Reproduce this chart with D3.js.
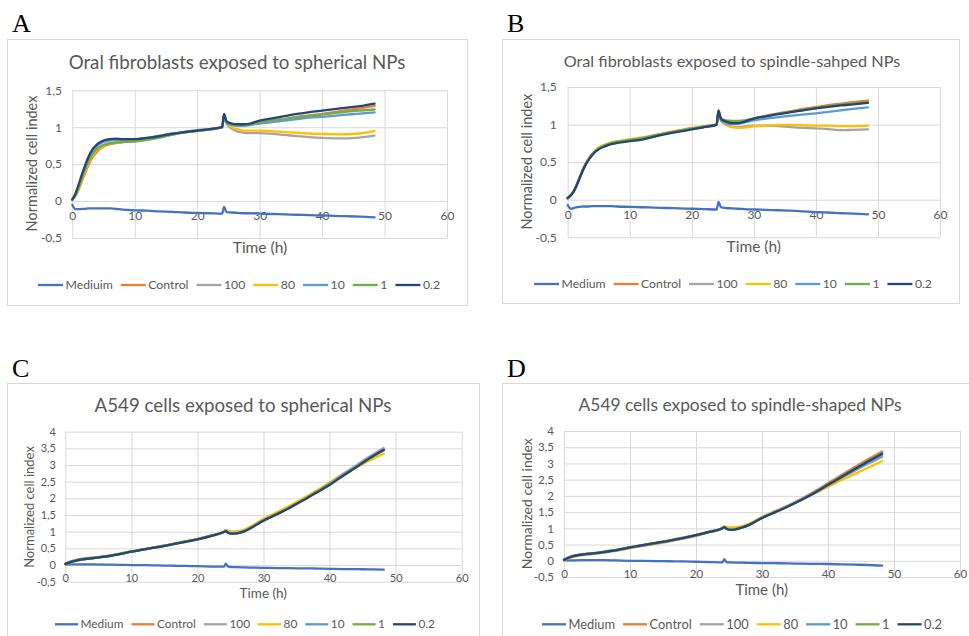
<!DOCTYPE html>
<html><head><meta charset="utf-8">
<script src="https://cdn.jsdelivr.net/npm/d3@7"></script>
<style>html,body{margin:0;padding:0;background:#fff;} svg{display:block;}</style>
</head><body>
<svg id="c" width="969" height="636"></svg>
<script>
// ---------------- DATA ----------------
const seriesNames = ["Medium","Control","100","80","10","1","0.2"];
const seriesNamesA = ["Mediuim","Control","100","80","10","1","0.2"];
const xTickValues = [0,10,20,30,40,50,60];
const yTicksFibro = [-0.5,0,0.5,1,1.5];
const yTicksA549 = [-0.5,0,0.5,1,1.5,2,2.5,3,3.5,4];
const titles = ["Oral fibroblasts exposed to spherical NPs","Oral fibroblasts exposed to spindle-sahped NPs","A549 cells exposed to spherical NPs","A549 cells exposed to spindle-shaped NPs"];

const hoursFibro = [0,0.5,1,1.5,2,2.5,3,4,5,6,7,8,10,12,14,16,18,20,22,24,24.3,24.7,25.5,26.5,27.5,28.5,30,32,34,36,38,40,42,44,46,48.4];
const hoursA549 = [0,0.5,1,2,3,4,6,8,10,12,14,16,18,20,22,24,24.3,24.6,25.2,26,27,28,30,32,34,36,38,40,42,44,46,48.2];

// Panel A
const fibroA_medium = [-0.05,-0.11,-0.11,-0.105,-0.105,-0.1,-0.1,-0.1,-0.1,-0.1,-0.105,-0.115,-0.125,-0.13,-0.14,-0.145,-0.155,-0.16,-0.165,-0.17,-0.08,-0.15,-0.155,-0.16,-0.165,-0.165,-0.17,-0.175,-0.18,-0.185,-0.19,-0.195,-0.2,-0.205,-0.21,-0.22];
const fibroA_control = [0.02,0.07,0.15,0.26,0.37,0.47,0.56,0.67,0.74,0.77,0.785,0.8,0.81,0.835,0.865,0.9,0.93,0.95,0.97,1.0,1.17,1.07,1.04,1.03,1.03,1.04,1.06,1.09,1.11,1.14,1.16,1.18,1.205,1.23,1.255,1.29];
const fibroA_100 = [0.02,0.08,0.17,0.29,0.41,0.51,0.6,0.7,0.76,0.785,0.795,0.805,0.815,0.84,0.87,0.905,0.93,0.955,0.97,1.0,1.16,1.05,0.98,0.94,0.925,0.92,0.92,0.91,0.895,0.88,0.865,0.855,0.85,0.85,0.86,0.885];
const fibroA_80 = [0.02,0.08,0.16,0.28,0.4,0.5,0.59,0.69,0.75,0.78,0.79,0.8,0.81,0.835,0.865,0.9,0.93,0.95,0.97,1.0,1.16,1.06,1.0,0.97,0.955,0.955,0.955,0.945,0.935,0.925,0.915,0.91,0.905,0.905,0.915,0.95];
const fibroA_10 = [0.02,0.09,0.2,0.33,0.45,0.56,0.65,0.75,0.8,0.82,0.83,0.83,0.835,0.855,0.885,0.915,0.94,0.96,0.975,1.0,1.17,1.06,1.03,1.02,1.02,1.03,1.05,1.07,1.09,1.11,1.13,1.14,1.155,1.17,1.185,1.2];
const fibroA_1 = [0.02,0.08,0.18,0.3,0.42,0.52,0.61,0.71,0.76,0.78,0.79,0.8,0.81,0.83,0.86,0.9,0.93,0.95,0.97,1.0,1.17,1.07,1.04,1.03,1.03,1.04,1.06,1.09,1.11,1.135,1.155,1.17,1.19,1.21,1.225,1.24];
const fibroA_02 = [0.02,0.1,0.22,0.35,0.47,0.58,0.67,0.77,0.82,0.84,0.845,0.84,0.84,0.855,0.88,0.91,0.935,0.955,0.975,1.0,1.18,1.08,1.05,1.04,1.04,1.05,1.09,1.12,1.15,1.18,1.205,1.225,1.245,1.265,1.285,1.32];

// Panel B
const fibroB_medium = [-0.07,-0.12,-0.11,-0.1,-0.095,-0.09,-0.09,-0.085,-0.085,-0.085,-0.085,-0.09,-0.095,-0.1,-0.105,-0.11,-0.115,-0.12,-0.125,-0.13,-0.03,-0.1,-0.11,-0.115,-0.12,-0.125,-0.13,-0.135,-0.14,-0.145,-0.155,-0.165,-0.17,-0.18,-0.185,-0.195];
const fibroB_control = [0.02,0.06,0.12,0.21,0.31,0.41,0.49,0.61,0.68,0.72,0.75,0.765,0.79,0.815,0.85,0.885,0.915,0.945,0.97,1.0,1.17,1.07,1.04,1.03,1.03,1.05,1.08,1.12,1.15,1.18,1.21,1.235,1.26,1.28,1.3,1.32];
const fibroB_100 = [0.02,0.06,0.12,0.21,0.31,0.41,0.49,0.61,0.68,0.72,0.75,0.77,0.795,0.82,0.855,0.89,0.92,0.95,0.975,1.0,1.16,1.05,1.0,0.97,0.965,0.975,0.985,0.985,0.98,0.965,0.955,0.95,0.94,0.925,0.93,0.935];
const fibroB_80 = [0.02,0.06,0.12,0.21,0.31,0.41,0.5,0.62,0.695,0.735,0.765,0.78,0.805,0.83,0.86,0.895,0.925,0.955,0.98,1.0,1.16,1.06,1.0,0.965,0.955,0.96,0.975,0.99,0.995,0.995,0.99,0.985,0.985,0.98,0.98,0.985];
const fibroB_10 = [0.02,0.06,0.12,0.21,0.31,0.41,0.49,0.61,0.68,0.72,0.75,0.765,0.79,0.815,0.85,0.885,0.915,0.945,0.97,1.0,1.17,1.06,1.02,1.005,1.01,1.03,1.055,1.08,1.1,1.12,1.135,1.15,1.17,1.19,1.21,1.23];
const fibroB_1 = [0.02,0.06,0.12,0.21,0.31,0.41,0.49,0.61,0.685,0.725,0.755,0.77,0.795,0.82,0.855,0.89,0.92,0.95,0.975,1.0,1.17,1.08,1.055,1.05,1.05,1.055,1.08,1.115,1.145,1.17,1.195,1.22,1.245,1.265,1.28,1.3];
const fibroB_02 = [0.02,0.06,0.11,0.2,0.3,0.4,0.48,0.6,0.67,0.71,0.74,0.755,0.78,0.8,0.84,0.875,0.905,0.935,0.965,1.0,1.19,1.08,1.04,1.02,1.02,1.04,1.08,1.11,1.14,1.165,1.19,1.215,1.235,1.255,1.27,1.29];

// Panel C
const a549C_medium = [0.02,0.02,0.02,0.02,0.02,0.02,0.015,0.005,0.0,-0.005,-0.01,-0.02,-0.025,-0.035,-0.045,-0.05,0.04,-0.04,-0.06,-0.065,-0.07,-0.075,-0.085,-0.09,-0.095,-0.1,-0.105,-0.115,-0.12,-0.125,-0.13,-0.14];
const a549C_control = [0.03,0.07,0.1,0.15,0.18,0.2,0.25,0.32,0.4,0.47,0.54,0.61,0.69,0.77,0.87,0.99,1.03,0.99,0.96,0.97,1.02,1.12,1.35,1.54,1.74,1.96,2.2,2.44,2.7,2.95,3.2,3.45];
const a549C_100 = [0.03,0.08,0.11,0.16,0.19,0.21,0.26,0.33,0.41,0.48,0.55,0.62,0.7,0.78,0.88,1.0,1.05,1.03,1.0,1.01,1.05,1.14,1.37,1.56,1.76,1.98,2.22,2.47,2.73,2.99,3.25,3.51];
const a549C_80 = [0.03,0.08,0.11,0.16,0.19,0.21,0.26,0.33,0.41,0.48,0.55,0.62,0.7,0.78,0.88,1.0,1.04,1.01,0.99,1.0,1.05,1.15,1.39,1.58,1.78,2.0,2.23,2.47,2.7,2.92,3.13,3.34];
const a549C_10 = [0.03,0.07,0.1,0.15,0.18,0.2,0.25,0.32,0.4,0.47,0.54,0.61,0.69,0.77,0.87,0.99,1.02,0.98,0.95,0.96,1.01,1.11,1.34,1.53,1.73,1.95,2.19,2.43,2.69,2.94,3.19,3.44];
const a549C_1 = [0.04,0.09,0.12,0.17,0.2,0.22,0.27,0.33,0.41,0.48,0.55,0.62,0.7,0.78,0.88,1.0,1.03,0.97,0.94,0.95,1.01,1.11,1.34,1.53,1.73,1.95,2.19,2.43,2.69,2.94,3.19,3.44];
const a549C_02 = [0.03,0.07,0.1,0.15,0.18,0.2,0.25,0.32,0.4,0.47,0.54,0.61,0.69,0.77,0.87,0.99,1.02,0.97,0.94,0.95,1.0,1.1,1.33,1.52,1.72,1.94,2.17,2.4,2.67,2.93,3.2,3.46];

// Panel D
const a549D_medium = [0.01,0.01,0.015,0.015,0.02,0.02,0.02,0.01,0.0,-0.005,-0.01,-0.015,-0.02,-0.03,-0.04,-0.05,0.05,-0.04,-0.05,-0.055,-0.06,-0.065,-0.07,-0.075,-0.08,-0.09,-0.095,-0.1,-0.11,-0.12,-0.13,-0.15];
const a549D_control = [0.02,0.06,0.1,0.15,0.18,0.2,0.25,0.31,0.39,0.46,0.53,0.6,0.68,0.77,0.88,0.99,1.03,1.0,0.97,0.99,1.04,1.11,1.33,1.51,1.7,1.91,2.14,2.39,2.64,2.88,3.12,3.37];
const a549D_100 = [0.03,0.08,0.12,0.17,0.2,0.22,0.27,0.33,0.41,0.48,0.55,0.62,0.7,0.79,0.89,1.0,1.05,1.02,1.0,1.01,1.05,1.13,1.35,1.53,1.71,1.91,2.12,2.34,2.55,2.77,2.98,3.2];
const a549D_80 = [0.03,0.08,0.12,0.17,0.2,0.22,0.27,0.33,0.41,0.48,0.55,0.62,0.7,0.79,0.89,1.0,1.06,1.04,1.03,1.04,1.07,1.14,1.34,1.52,1.7,1.89,2.08,2.28,2.48,2.67,2.86,3.07];
const a549D_10 = [0.03,0.08,0.12,0.17,0.2,0.22,0.27,0.33,0.41,0.48,0.55,0.62,0.7,0.79,0.89,1.0,1.04,0.99,0.96,0.98,1.03,1.1,1.32,1.5,1.68,1.88,2.1,2.33,2.56,2.79,3.02,3.25];
const a549D_1 = [0.04,0.09,0.13,0.18,0.21,0.23,0.28,0.34,0.42,0.49,0.56,0.63,0.71,0.8,0.9,1.0,1.04,0.98,0.95,0.97,1.03,1.1,1.32,1.5,1.69,1.89,2.11,2.35,2.59,2.83,3.07,3.32];
const a549D_02 = [0.03,0.08,0.12,0.17,0.2,0.22,0.27,0.33,0.41,0.48,0.55,0.62,0.7,0.79,0.89,1.0,1.04,0.99,0.95,0.97,1.03,1.1,1.32,1.5,1.68,1.88,2.1,2.34,2.58,2.82,3.05,3.3];

// ---------------- STYLE / LAYOUT ----------------
const colors = ["#4472C4","#ED7D31","#A5A5A5","#FFC000","#5B9BD5","#70AD47","#264478"];
const FONT = 'Lato, "Open Sans", "DejaVu Sans", sans-serif';
const TEXT = "#595959";
const GRID = "#d9d9d9";
const LW = 2.3;

const panels = [
  {label:"A", lab:[12,32], frame:[7,39,467,305], x0:72.3, x1:447, yTop:90.3, yBot:238, yPad:10.3, xOff:15, tickFs:12,
   title:[237,69,337], ytitle:[32,163.5,14.5], xtitle:[260,253,15.5], legend:[239,285,402], legLine:25,
   hours:hoursFibro, yTicks:yTicksFibro, names:seriesNamesA, titleText:titles[0],
   series:[fibroA_medium,fibroA_control,fibroA_100,fibroA_80,fibroA_10,fibroA_1,fibroA_02]},
  {label:"B", lab:[507,32], frame:[502,39,959,303], x0:567.7, x1:940, yTop:87, yBot:237.3, yPad:11, xOff:14.7, tickFs:12,
   title:[732,67,337], ytitle:[526.7,161.7,14.5], xtitle:[753.8,252.3,15.5], legend:[733,284,398], legLine:25,
   hours:hoursFibro, yTicks:yTicksFibro, names:seriesNames, titleText:titles[1],
   series:[fibroB_medium,fibroB_control,fibroB_100,fibroB_80,fibroB_10,fibroB_1,fibroB_02]},
  {label:"C", lab:[12,377], frame:[7,383,479,650], x0:65.3, x1:461.7, yTop:431.7, yBot:581.7, yPad:9.3, xOff:13.2, tickFs:11,
   title:[243,411.7,297], ytitle:[29.3,507,13], xtitle:[263.3,597.5,13.5], legend:[245,624.3,380], legLine:23,
   hours:hoursA549, yTicks:yTicksA549, names:seriesNames, titleText:titles[2],
   series:[a549C_medium,a549C_control,a549C_100,a549C_80,a549C_10,a549C_1,a549C_02]},
  {label:"D", lab:[507,377], frame:[502,383,990,650], x0:564, x1:960, yTop:431, yBot:577, yPad:10, xOff:13.2, tickFs:11.5,
   title:[740,411,323], ytitle:[526.7,503.7,14], xtitle:[761.7,594.8,15], legend:[742,624.3,400], legLine:24,
   hours:hoursA549, yTicks:yTicksA549, names:seriesNames, titleText:titles[3],
   series:[a549D_medium,a549D_control,a549D_100,a549D_80,a549D_10,a549D_1,a549D_02]}
];

const svg = d3.select("#c");
const fmt = d => String(d).replace(".", ",");

function fitWidth(sel, w) {
  const fs = parseFloat(sel.attr("font-size"));
  const L = sel.node().getComputedTextLength();
  if (L > 0) sel.attr("font-size", Math.max(fs*0.8, Math.min(fs*1.25, fs*w/L)));
}

function drawPanel(p) {
  const g = svg.append("g");
  g.append("rect")
    .attr("x", p.frame[0]+0.5).attr("y", p.frame[1]+0.5)
    .attr("width", p.frame[2]-p.frame[0]).attr("height", p.frame[3]-p.frame[1])
    .attr("fill", "#fff").attr("stroke", GRID).attr("stroke-width", 1);

  g.append("text").text(p.label)
    .attr("x", p.lab[0]).attr("y", p.lab[1])
    .attr("font-family", '"Liberation Serif", "DejaVu Serif", serif')
    .attr("font-size", 26).attr("fill", "#000");

  const x = d3.scaleLinear().domain([0, 60]).range([p.x0, p.x1]);
  const y = d3.scaleLinear().domain([p.yTicks[0], p.yTicks[p.yTicks.length-1]]).range([p.yBot, p.yTop]);

  // horizontal gridlines + y labels
  const gy = g.append("g").attr("transform", `translate(${p.x0},0)`)
    .call(d3.axisLeft(y).tickValues(p.yTicks).tickSize(-(p.x1-p.x0)).tickPadding(p.yPad).tickFormat(fmt));
  gy.select(".domain").remove();
  gy.selectAll("line").attr("stroke", GRID);
  gy.selectAll("text").attr("fill", TEXT).attr("font-family", FONT).attr("font-size", p.tickFs);

  // vertical gridlines
  const gv = g.append("g").attr("transform", `translate(0,${p.yBot})`)
    .call(d3.axisBottom(x).tickValues(xTickValues).tickSize(-(p.yBot-p.yTop)).tickFormat(""));
  gv.select(".domain").remove();
  gv.selectAll("line").attr("stroke", GRID);

  // x labels at zero crossing
  const gx = g.append("g").attr("transform", `translate(0,${y(0)})`)
    .call(d3.axisBottom(x).tickValues(xTickValues).tickSize(0).tickFormat(d => d));
  gx.select(".domain").remove();
  gx.selectAll("text").attr("y", p.xOff).attr("dy", "0.35em")
    .attr("fill", TEXT).attr("font-family", FONT).attr("font-size", p.tickFs);

  // lines
  const line = d3.line().x(d => x(d[0])).y(d => y(d[1])).curve(d3.curveMonotoneX);
  p.series.forEach((vals, i) => {
    const pts = p.hours.map((h, k) => [h, vals[k]]);
    g.append("path").datum(pts).attr("d", line)
      .attr("fill", "none").attr("stroke", colors[i]).attr("stroke-width", LW)
      .attr("stroke-linejoin", "round").attr("stroke-linecap", "round");
  });

  // title
  const t = g.append("text").text(p.titleText)
    .attr("x", p.title[0]).attr("y", p.title[1]).attr("text-anchor", "middle")
    .attr("font-family", FONT).attr("font-size", 18).attr("fill", TEXT);
  fitWidth(t, p.title[2]);

  // y title
  g.append("text").text("Normalized cell index")
    .attr("transform", `translate(${p.ytitle[0]},${p.ytitle[1]}) rotate(-90)`)
    .attr("text-anchor", "middle").attr("dy", "0.35em")
    .attr("font-family", FONT).attr("font-size", p.ytitle[2]).attr("fill", TEXT);

  // x title
  g.append("text").text("Time (h)")
    .attr("x", p.xtitle[0]).attr("y", p.xtitle[1]).attr("text-anchor", "middle")
    .attr("font-family", FONT).attr("font-size", p.xtitle[2]).attr("fill", TEXT);

  // legend
  const lg = g.append("g");
  const fs0 = 12, gap1 = 2.5, gap2 = 8;
  const texts = p.names.map(n => lg.append("text").text(n)
    .attr("font-family", FONT).attr("font-size", fs0).attr("fill", TEXT));
  let widths = texts.map(tx => tx.node().getComputedTextLength());
  const fixed = p.names.length*(p.legLine+gap1) + (p.names.length-1)*gap2;
  let fs = fs0*(p.legend[2]-fixed)/d3.sum(widths);
  fs = Math.max(10.5, Math.min(14, fs));
  texts.forEach(tx => tx.attr("font-size", fs));
  widths = texts.map(tx => tx.node().getComputedTextLength());
  const total = fixed + d3.sum(widths);
  let xp = p.legend[0] - total/2;
  const ly = p.legend[1];
  p.names.forEach((n, i) => {
    lg.append("line").attr("x1", xp).attr("x2", xp+p.legLine).attr("y1", ly).attr("y2", ly)
      .attr("stroke", colors[i]).attr("stroke-width", LW);
    texts[i].attr("x", xp+p.legLine+gap1).attr("y", ly).attr("dy", "0.35em");
    xp += p.legLine + gap1 + widths[i] + gap2;
  });
}

panels.forEach(drawPanel);
</script>
</body></html>
